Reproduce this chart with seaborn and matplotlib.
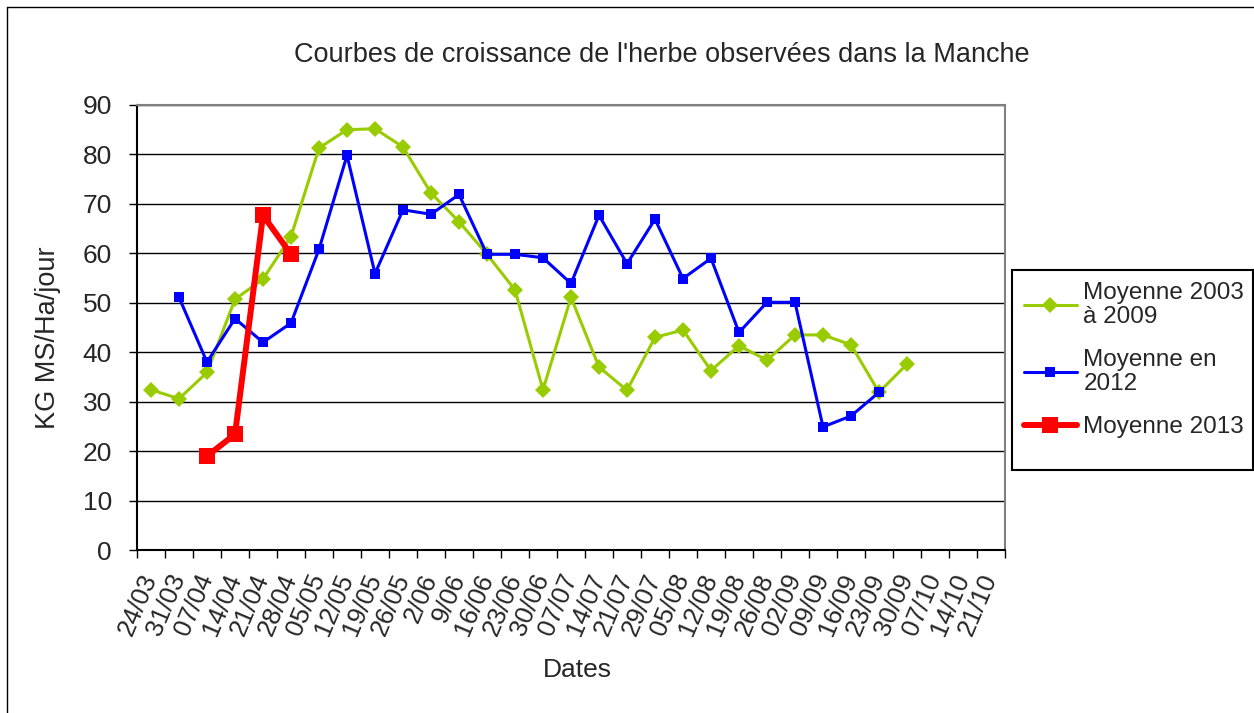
import numpy as np
import pandas as pd
import matplotlib
matplotlib.use("Agg")
import matplotlib.pyplot as plt
from matplotlib.lines import Line2D
from matplotlib.patches import Rectangle
import seaborn as sns

dates = ["24/03", "31/03", "07/04", "14/04", "21/04", "28/04", "05/05", "12/05",
         "19/05", "26/05", "2/06", "9/06", "16/06", "23/06", "30/06", "07/07",
         "14/07", "21/07", "29/07", "05/08", "12/08", "19/08", "26/08", "02/09",
         "09/09", "16/09", "23/09", "30/09", "07/10", "14/10", "21/10"]

nan = np.nan
moy_2003_2009 = [32.4, 30.6, 35.9, 50.7, 54.8, 63.4, 81.3, 85.0, 85.2, 81.5, 72.2,
                 66.4, 59.8, 52.6, 32.4, 51.1, 37.0, 32.3, 43.0, 44.5, 36.3, 41.3,
                 38.4, 43.5, 43.5, 41.5, 31.9, 37.6, nan, nan, nan]
moy_2012 = [nan, 51.1, 38.0, 46.8, 42.0, 45.9, 60.8, 79.8, 55.9, 68.8, 67.9, 71.9,
            59.8, 59.8, 59.1, 53.9, 67.7, 57.9, 66.9, 54.9, 59.0, 44.0, 50.1, 50.1,
            24.9, 27.1, 31.9, nan, nan, nan, nan]
moy_2013 = [nan, nan, 19.0, 23.4, 67.7, 59.8] + [nan] * 25

yticks = [0, 10, 20, 30, 40, 50, 60, 70, 80, 90]
series_labels = ["Moyenne 2003\nà 2009", "Moyenne en\n2012", "Moyenne 2013"]

sns.set_theme(style="white")
plt.rcParams["font.family"] = ["Liberation Sans", "DejaVu Sans"]

W, H = 1254, 713
fig = plt.figure(figsize=(W / 100, H / 100), dpi=100)
ax = fig.add_axes([137 / W, 1 - 550 / H, (1005 - 137) / W, (550 - 105) / H])

x = np.arange(len(dates))
df = pd.DataFrame({"x": x, "g": moy_2003_2009, "b": moy_2012, "r": moy_2013})

sns.lineplot(data=df, x="x", y="g", ax=ax, color="#99CC00", linewidth=2.2,
             marker="D", markersize=8.5, markeredgewidth=0, zorder=3)
sns.lineplot(data=df, x="x", y="b", ax=ax, color="#0000FF", linewidth=2.2,
             marker="s", markersize=7.5, markeredgewidth=0, zorder=4)
sns.lineplot(data=df, x="x", y="r", ax=ax, color="#FF0000", linewidth=4.3,
             marker="s", markersize=11.5, markeredgewidth=0, zorder=5)

ax.set_xlim(-0.5, len(dates) - 0.5)
ax.set_ylim(0, 90)
ax.set_yticks(yticks)
ax.set_yticklabels([str(v) for v in yticks], fontsize=19)
ax.set_xticks(x)
ax.set_xticklabels(dates, rotation=67, ha="right", va="center",
                   rotation_mode="anchor", fontsize=18.5)
ax.set_xticks(np.arange(-0.5, len(dates)), minor=True)
ax.tick_params(axis="x", which="major", length=0, pad=18)
ax.tick_params(axis="x", which="minor", length=6, width=1, color="black",
               direction="out", bottom=True)
ax.tick_params(axis="y", length=6, width=1, color="black", direction="out",
               left=True, pad=12)

ax.grid(axis="y", color="black", linewidth=1)
ax.grid(axis="x", visible=False)
ax.set_axisbelow(True)

for s in ["top", "right"]:
    ax.spines[s].set_color("#808080")
    ax.spines[s].set_linewidth(1.5)
for s in ["left", "bottom"]:
    ax.spines[s].set_color("black")
    ax.spines[s].set_linewidth(1.5)

ax.set_xlabel("Dates", fontsize=19)
ax.xaxis.set_label_coords(0.507, -0.243)
ax.set_ylabel("KG MS/Ha/jour", fontsize=19.5)
ax.yaxis.set_label_coords(-0.087, 0.478)
ax.set_title("Courbes de croissance de l'herbe observées dans la Manche",
             fontsize=19.5, pad=31, x=0.605)

handles = [
    Line2D([], [], color="#99CC00", linewidth=2.2, marker="D", markersize=8, markeredgewidth=0),
    Line2D([], [], color="#0000FF", linewidth=2.2, marker="s", markersize=7, markeredgewidth=0),
    Line2D([], [], color="#FF0000", linewidth=4.3, marker="s", markersize=11, markeredgewidth=0),
]
leg = fig.legend(handles, series_labels, loc="upper left",
                 bbox_to_anchor=(1014 / W, 1 - 272 / H), fontsize=17.5,
                 frameon=False, handlelength=2.2, handletextpad=0.25,
                 labelspacing=0.87, borderpad=0.4, borderaxespad=0)
for t in leg.get_texts():
    t.set_linespacing(1.12)

fig.add_artist(Rectangle((1012 / W, 1 - 470 / H), (1253 - 1012) / W, 200 / H,
                         transform=fig.transFigure, fill=False,
                         edgecolor="black", linewidth=1.5))

# outer chart border (left and top visible)
fig.add_artist(Line2D([7 / W, 7 / W], [0, 1 - 7 / H], color="black", linewidth=1,
                      transform=fig.transFigure))
fig.add_artist(Line2D([7 / W, 1], [1 - 7 / H, 1 - 7 / H], color="black", linewidth=1,
                      transform=fig.transFigure))

fig.savefig("out.png", dpi=100)
